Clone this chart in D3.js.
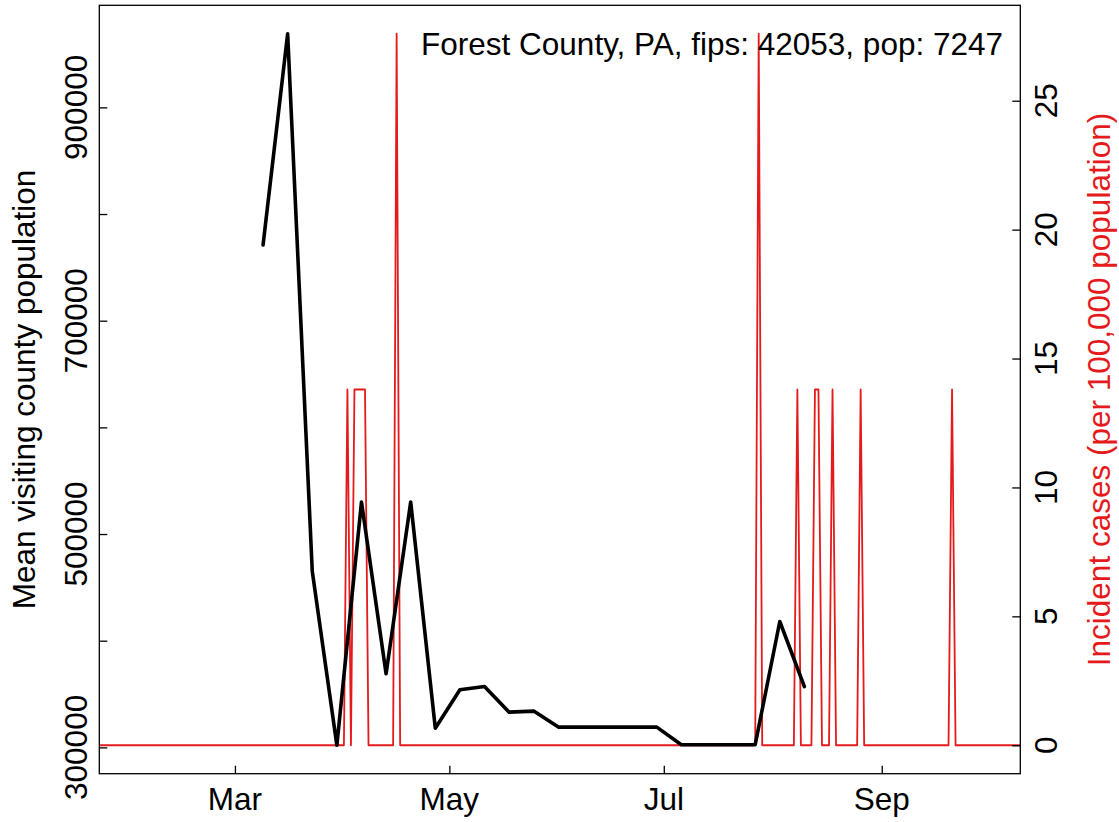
<!DOCTYPE html>
<html><head><meta charset="utf-8">
<script src="https://cdn.jsdelivr.net/npm/d3@7"></script>
<style>
body{margin:0;background:#fff}
text{font-family:"Liberation Sans",Arial,Helvetica,sans-serif}
</style>
</head><body>
<svg id="chart" width="1119" height="822"></svg>
<script>
// ---- data ----
const visitDates = ["2020-03-09","2020-03-16","2020-03-23","2020-03-30","2020-04-06","2020-04-13","2020-04-20","2020-04-27","2020-05-04","2020-05-11","2020-05-18","2020-05-25","2020-06-01","2020-06-08","2020-06-15","2020-06-22","2020-06-29","2020-07-06","2020-07-13","2020-07-20","2020-07-27","2020-08-03","2020-08-10"];
const visitValues = [771000,969000,465000,302000,530000,369000,530000,318000,354000,357000,333000,334000,319000,319000,319000,319000,319000,302500,302500,302500,302500,418000,357000];

const caseDates = ["2020-01-22","2020-04-01","2020-04-02","2020-04-03","2020-04-04","2020-04-07","2020-04-08","2020-04-15","2020-04-16","2020-04-17","2020-07-27","2020-07-28","2020-07-29","2020-08-07","2020-08-08","2020-08-09","2020-08-12","2020-08-13","2020-08-14","2020-08-15","2020-08-17","2020-08-18","2020-08-19","2020-08-25","2020-08-26","2020-08-27","2020-09-20","2020-09-21","2020-09-22","2020-10-11"];
const caseValues = [0,0,13.799,0,13.799,13.799,0,0,27.598,0,0,27.598,0,0,13.799,0,0,13.799,13.799,0,0,13.799,0,0,13.799,0,0,13.799,0,0];

const leftTicks = [300000,400000,500000,600000,700000,800000,900000];
const leftTickLabels = ["300000","","500000","","700000","","900000"];
const rightTicks = [0,5,10,15,20,25];
const rightTickLabels = ["0","5","10","15","20","25"];
const monthTicks = ["2020-03-01","2020-05-01","2020-07-01","2020-09-01"];
const monthLabels = ["Mar","May","Jul","Sep"];
const xLimits = ["2020-01-22T10:00","2020-10-10T10:00"];
const titleText = "Forest County, PA, fips: 42053, pop: 7247";
const leftTitle = "Mean visiting county population";
const rightTitle = "Incident cases (per 100,000 population)";

// ---- layout ----
const W = 1119, H = 822;
const box = {left: 99.3, right: 1020.3, top: 5.3, bottom: 773.7};
const FS = 31.5;
const RED = "#E41A1C";

const parseDay = d3.utcParse("%Y-%m-%d");
const parseTime = d3.utcParse("%Y-%m-%dT%H:%M");

const visit = visitDates.map((d,i)=>({date: parseDay(d), v: visitValues[i]}));
const cases = caseDates.map((d,i)=>({date: parseDay(d), v: caseValues[i]}));

function padded(ext){ const s = ext[1]-ext[0]; return [ext[0]-0.04*s, ext[1]+0.04*s]; }

const x = d3.scaleUtc().domain(xLimits.map(parseTime)).range([box.left, box.right]);
const y1 = d3.scaleLinear().domain(padded(d3.extent(visitValues))).range([box.bottom, box.top]);
const y2 = d3.scaleLinear().domain(padded(d3.extent(caseValues))).range([box.bottom, box.top]);

const svg = d3.select("#chart");
svg.append("rect").attr("width", W).attr("height", H).attr("fill", "#fff");

svg.append("defs").append("clipPath").attr("id","plotclip")
  .append("rect").attr("x", box.left).attr("y", box.top)
  .attr("width", box.right-box.left).attr("height", box.bottom-box.top);

const plot = svg.append("g").attr("clip-path","url(#plotclip)");

// red incident cases line
plot.append("path").datum(cases)
  .attr("d", d3.line().x(d=>x(d.date)).y(d=>y2(d.v)))
  .attr("fill","none").attr("stroke", RED).attr("stroke-width", 1.8)
  .attr("stroke-linejoin","round").attr("stroke-linecap","round");

// black visiting population line
plot.append("path").datum(visit)
  .attr("d", d3.line().x(d=>x(d.date)).y(d=>y1(d.v)))
  .attr("fill","none").attr("stroke", "#000").attr("stroke-width", 3.6)
  .attr("stroke-linejoin","round").attr("stroke-linecap","round");

// axes (inward ticks)
const axL = svg.append("g").attr("transform", `translate(${box.left},0)`)
  .call(d3.axisLeft(y1).tickValues(leftTicks).tickSize(-8).tickFormat(""));
const axR = svg.append("g").attr("transform", `translate(${box.right},0)`)
  .call(d3.axisRight(y2).tickValues(rightTicks).tickSize(-8).tickFormat(""));
const axB = svg.append("g").attr("transform", `translate(0,${box.bottom})`)
  .call(d3.axisBottom(x).tickValues(monthTicks.map(parseDay)).tickSize(-8).tickFormat(""));
[axL, axR, axB].forEach(g=>{
  g.select(".domain").remove();
  g.selectAll(".tick line").attr("stroke","#000").attr("stroke-width",1.3);
});

// box
svg.append("rect").attr("x", box.left).attr("y", box.top)
  .attr("width", box.right-box.left).attr("height", box.bottom-box.top)
  .attr("fill","none").attr("stroke","#000").attr("stroke-width",1.3);

// left tick labels
svg.append("g").selectAll("text").data(leftTicks).join("text")
  .attr("transform", d=>`translate(87,${y1(d)}) rotate(-90)`)
  .attr("text-anchor","middle").attr("font-size", FS).attr("fill","#000")
  .text((d,i)=>leftTickLabels[i]);

// right tick labels
svg.append("g").selectAll("text").data(rightTicks).join("text")
  .attr("transform", d=>`translate(1057,${y2(d)}) rotate(-90)`)
  .attr("text-anchor","middle").attr("font-size", FS).attr("fill","#000")
  .text((d,i)=>rightTickLabels[i]);

// bottom tick labels
svg.append("g").selectAll("text").data(monthTicks).join("text")
  .attr("x", d=>x(parseDay(d))).attr("y", 810)
  .attr("text-anchor","middle").attr("font-size", FS).attr("fill","#000")
  .text((d,i)=>monthLabels[i]);

const midY = (box.top+box.bottom)/2;
svg.append("text").attr("transform", `translate(35,${midY}) rotate(-90)`)
  .attr("text-anchor","middle").attr("font-size", FS).attr("fill","#000").text(leftTitle);
svg.append("text").attr("transform", `translate(1110,${midY}) rotate(-90)`)
  .attr("text-anchor","middle").attr("font-size", FS).attr("fill", RED).text(rightTitle);

svg.append("text").attr("x", 1003).attr("y", 55).attr("text-anchor","end")
  .attr("font-size", FS).attr("fill","#000").text(titleText);
</script>
</body></html>
